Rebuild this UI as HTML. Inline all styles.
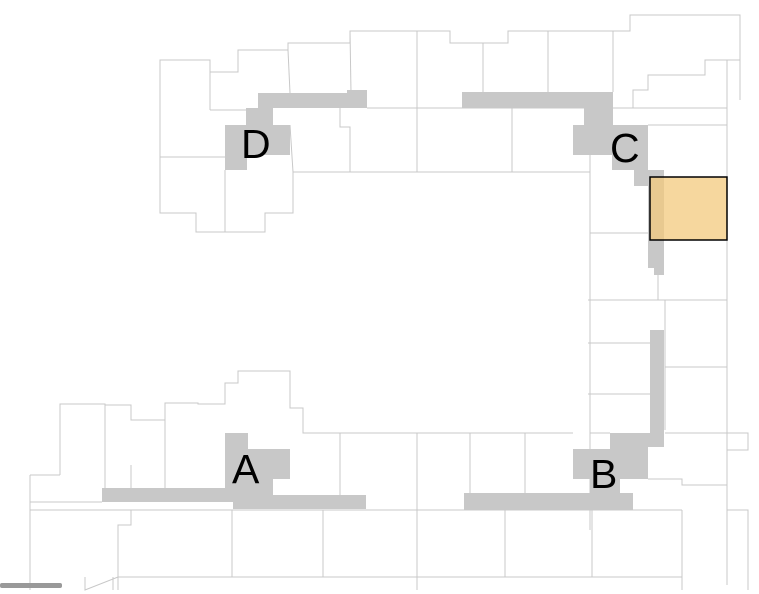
<!DOCTYPE html>
<html><head><meta charset="utf-8"><style>
html,body{margin:0;padding:0;background:#fff;width:759px;height:594px;overflow:hidden}
svg{display:block}
text{font-family:"Liberation Sans",sans-serif;font-size:41px;fill:#000}
</style></head><body>
<svg width="759" height="594" viewBox="0 0 759 594" xmlns="http://www.w3.org/2000/svg">
<g fill="none" stroke="#c8c8c8" stroke-width="1">
<polyline points="160,157 160,60 210,60 210,72 238,72 238,50 288,50 288,43 350,43 350,31 417,31"/>
<polyline points="160,157 160,213 196,213 196,232 265,232 265,213 293,213 293,172 417,172"/>
<line x1="160" y1="157" x2="225" y2="157"/>
<line x1="225" y1="170" x2="225" y2="232"/>
<line x1="210" y1="72" x2="210" y2="110"/>
<line x1="210" y1="110" x2="258" y2="110"/>
<line x1="288" y1="50" x2="290" y2="93"/>
<line x1="350" y1="31" x2="351" y2="93"/>
<line x1="290" y1="125" x2="293" y2="172"/>
<polyline points="340,108 340,127 350,127 350,172"/>
<line x1="367" y1="108" x2="417" y2="108"/>
<line x1="417" y1="31" x2="417" y2="172"/>
<polyline points="417,31 450,31 450,43 508,43 508,31 630,31 630,15 740,15 740,100"/>
<line x1="417" y1="108" x2="727" y2="108"/>
<line x1="417" y1="172" x2="590" y2="172"/>
<line x1="483" y1="43" x2="483" y2="92"/>
<line x1="548" y1="31" x2="548" y2="92"/>
<line x1="512" y1="108" x2="512" y2="172"/>
<line x1="613" y1="31" x2="613" y2="92"/>
<polyline points="633,108 633,90 648,90 648,75 705,75 705,60 740,60"/>
<line x1="648" y1="125" x2="727" y2="125"/>
<polyline points="727,60 727,585"/>
<line x1="590" y1="155" x2="590" y2="530"/>
<line x1="590" y1="233" x2="650" y2="233"/>
<line x1="658" y1="240" x2="658" y2="300"/>
<line x1="588" y1="300" x2="727" y2="300"/>
<line x1="665" y1="300" x2="665" y2="430"/>
<line x1="588" y1="343" x2="650" y2="343"/>
<line x1="665" y1="367" x2="727" y2="367"/>
<line x1="588" y1="394" x2="650" y2="394"/>
<polyline points="665,433 748,433 748,450 727,450 727,510 748,510 748,590"/>
<polyline points="648,479 682,479 682,485 727,485"/>
<line x1="590" y1="433" x2="610" y2="433"/>
<line x1="30" y1="502" x2="102" y2="502"/>
<line x1="30" y1="510" x2="682" y2="510"/>
<line x1="682" y1="510" x2="682" y2="590"/>
<line x1="30" y1="475" x2="30" y2="590"/>
<line x1="30" y1="475" x2="60" y2="475"/>
<polyline points="60,475 60,404 105,404 105,405 131,405 131,420 165,420 165,403 198,403 198,404 225,404 225,383 238,383 238,371 290,371 290,408 303,408 303,433 417,433"/>
<line x1="417" y1="433" x2="573" y2="433"/>
<line x1="105" y1="404" x2="105" y2="488"/>
<line x1="165" y1="420" x2="165" y2="488"/>
<line x1="131" y1="465" x2="131" y2="488"/>
<line x1="340" y1="433" x2="340" y2="495"/>
<line x1="417" y1="433" x2="417" y2="590"/>
<line x1="470" y1="433" x2="470" y2="493"/>
<line x1="525" y1="433" x2="525" y2="493"/>
<polyline points="131,510 131,525 118,525 118,590"/>
<line x1="232" y1="510" x2="232" y2="577"/>
<line x1="323" y1="510" x2="323" y2="577"/>
<line x1="505" y1="510" x2="505" y2="577"/>
<line x1="592" y1="510" x2="592" y2="577"/>
<polyline points="85,577 85,590 118,577 682,577"/>
<line x1="113" y1="577" x2="113" y2="590"/>
</g>
<g fill="#c8c8c8">
<polygon points="258,93 347,93 347,90 367,90 367,108 273,108 273,155 247,155 247,170 225,170 225,125 246,125 246,108 258,108"/>
<rect x="225" y="125" width="65" height="30"/>
<polygon points="462,92 613,92 613,125 648,125 648,170 664,170 664,275 654,275 654,268 648,268 648,186 634,186 634,170 612,170 612,155 573,155 573,125 584,125 584,108 462,108"/>
<polygon points="102,488 225,488 225,433 248,433 248,449 290,449 290,479 273,479 273,495 366,495 366,509 233,509 233,502 102,502"/>
<polygon points="650,330 664,330 664,447 648,447 648,479 620,479 620,493 633,493 633,510 464,510 464,493 590,493 590,479 573,479 573,449 610,449 610,433 650,433"/>
</g>
<rect x="650" y="177" width="77" height="63" fill="#f3c97e" fill-opacity="0.75" stroke="#000" stroke-width="1.5"/>
<rect x="0" y="583" width="62" height="5" rx="2" fill="#999"/>
<text x="241" y="158">D</text>
<text x="610" y="162">C</text>
<text x="232" y="483">A</text>
<text x="590" y="488">B</text>
</svg>
</body></html>
